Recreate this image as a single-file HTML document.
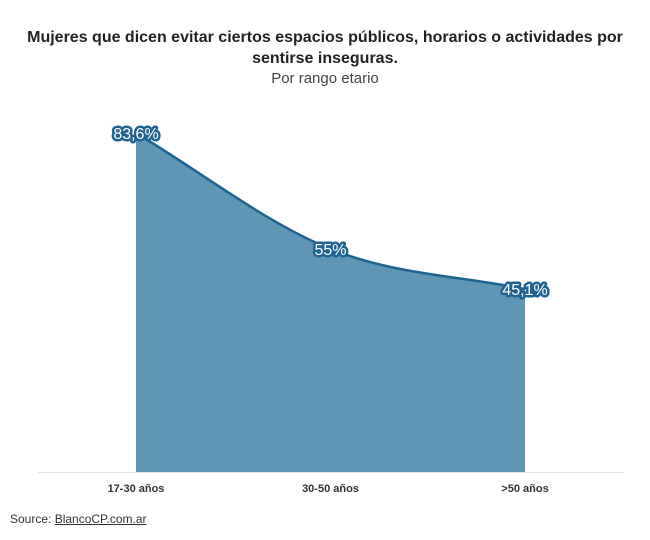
<!DOCTYPE html>
<html><head><meta charset="utf-8">
<style>
body{margin:0;background:#fff;font-family:"Liberation Sans",sans-serif;}
#wrap{position:relative;width:650px;height:540px;}
.t{position:absolute;left:0;width:650px;text-align:center;color:#222;}
</style></head><body>
<div id="wrap">
<div class="t" style="top:27px;font-size:16px;font-weight:bold;line-height:21px;">Mujeres que dicen evitar ciertos espacios públicos, horarios o actividades por<br>sentirse inseguras.</div>
<div class="t" style="top:70px;font-size:15px;color:#444;">Por rango etario</div>
<svg id="svg" width="650" height="540" style="position:absolute;left:0;top:0"></svg>
<div style="position:absolute;left:10px;top:512px;font-size:12px;color:#333">Source: <span style="text-decoration:underline">BlancoCP.com.ar</span></div>
</div>
<script>
const categories=["17-30 años","30-50 años",">50 años"];
const values=[83.6,55,45.1];
const labels=["83,6%","55%","45,1%"];
const NS="http://www.w3.org/2000/svg";
const svg=document.getElementById('svg');
const x0=136,x1=525,yBase=472,pxPer=4.055;
function xs(i){return x0+(x1-x0)*i/(categories.length-1);}
function ys(v){return yBase-v*pxPer;}
const pts=values.map((v,i)=>[xs(i),ys(v)]);
function path(p){
 const n=p.length,d=[],m=[];
 for(let i=0;i<n-1;i++)d.push((p[i+1][1]-p[i][1])/(p[i+1][0]-p[i][0]));
 m[0]=d[0];m[n-1]=d[n-2];
 for(let i=1;i<n-1;i++)m[i]=d[i-1]*d[i]<=0?0:(d[i-1]+d[i])/2;
 let s="M"+p[0][0]+","+p[0][1];
 for(let i=0;i<n-1;i++){const h=(p[i+1][0]-p[i][0])/3;
  s+=" C"+(p[i][0]+h)+","+(p[i][1]+m[i]*h)+" "+(p[i+1][0]-h)+","+(p[i+1][1]-m[i+1]*h)+" "+p[i+1][0]+","+p[i+1][1];}
 return s;}
const lp=path(pts);
const axis=document.createElementNS(NS,'line');


axis.setAttribute('x1',38);axis.setAttribute('x2',624);axis.setAttribute('y1',yBase+0.5);axis.setAttribute('y2',yBase+0.5);axis.setAttribute('stroke','#e4e4e4');
svg.appendChild(axis);
const area=document.createElementNS(NS,'path');


area.setAttribute('d',lp+" L"+xs(values.length-1)+","+yBase+" L"+xs(0)+","+yBase+" Z");
area.setAttribute('fill','#6096b4');
svg.appendChild(area);
const line=document.createElementNS(NS,'path');


line.setAttribute('d',lp);line.setAttribute('fill','none');line.setAttribute('stroke','#1f6391');line.setAttribute('stroke-width','2.5');
svg.appendChild(line);
values.forEach((v,i)=>{
 const t=document.createElementNS(NS,'text');
 
 
 t.setAttribute('x',xs(i));t.setAttribute('y',ys(v)+6);t.setAttribute('text-anchor','middle');
 t.setAttribute('font-size','16');t.setAttribute('fill','#fff');t.setAttribute('stroke','#1f6391');t.setAttribute('stroke-width','5');t.setAttribute('paint-order','stroke');t.setAttribute('stroke-linejoin','round');
 t.setAttribute('font-family','Liberation Sans, sans-serif');
 t.textContent=labels[i];svg.appendChild(t);
 const c=document.createElementNS(NS,'text');
 
 
 c.setAttribute('x',xs(i));c.setAttribute('y',492);c.setAttribute('text-anchor','middle');
 c.setAttribute('font-size','11');c.setAttribute('font-weight','bold');c.setAttribute('fill','#333');
 c.setAttribute('font-family','Liberation Sans, sans-serif');
 c.textContent=categories[i];svg.appendChild(c);
});
</script>
</body></html>
